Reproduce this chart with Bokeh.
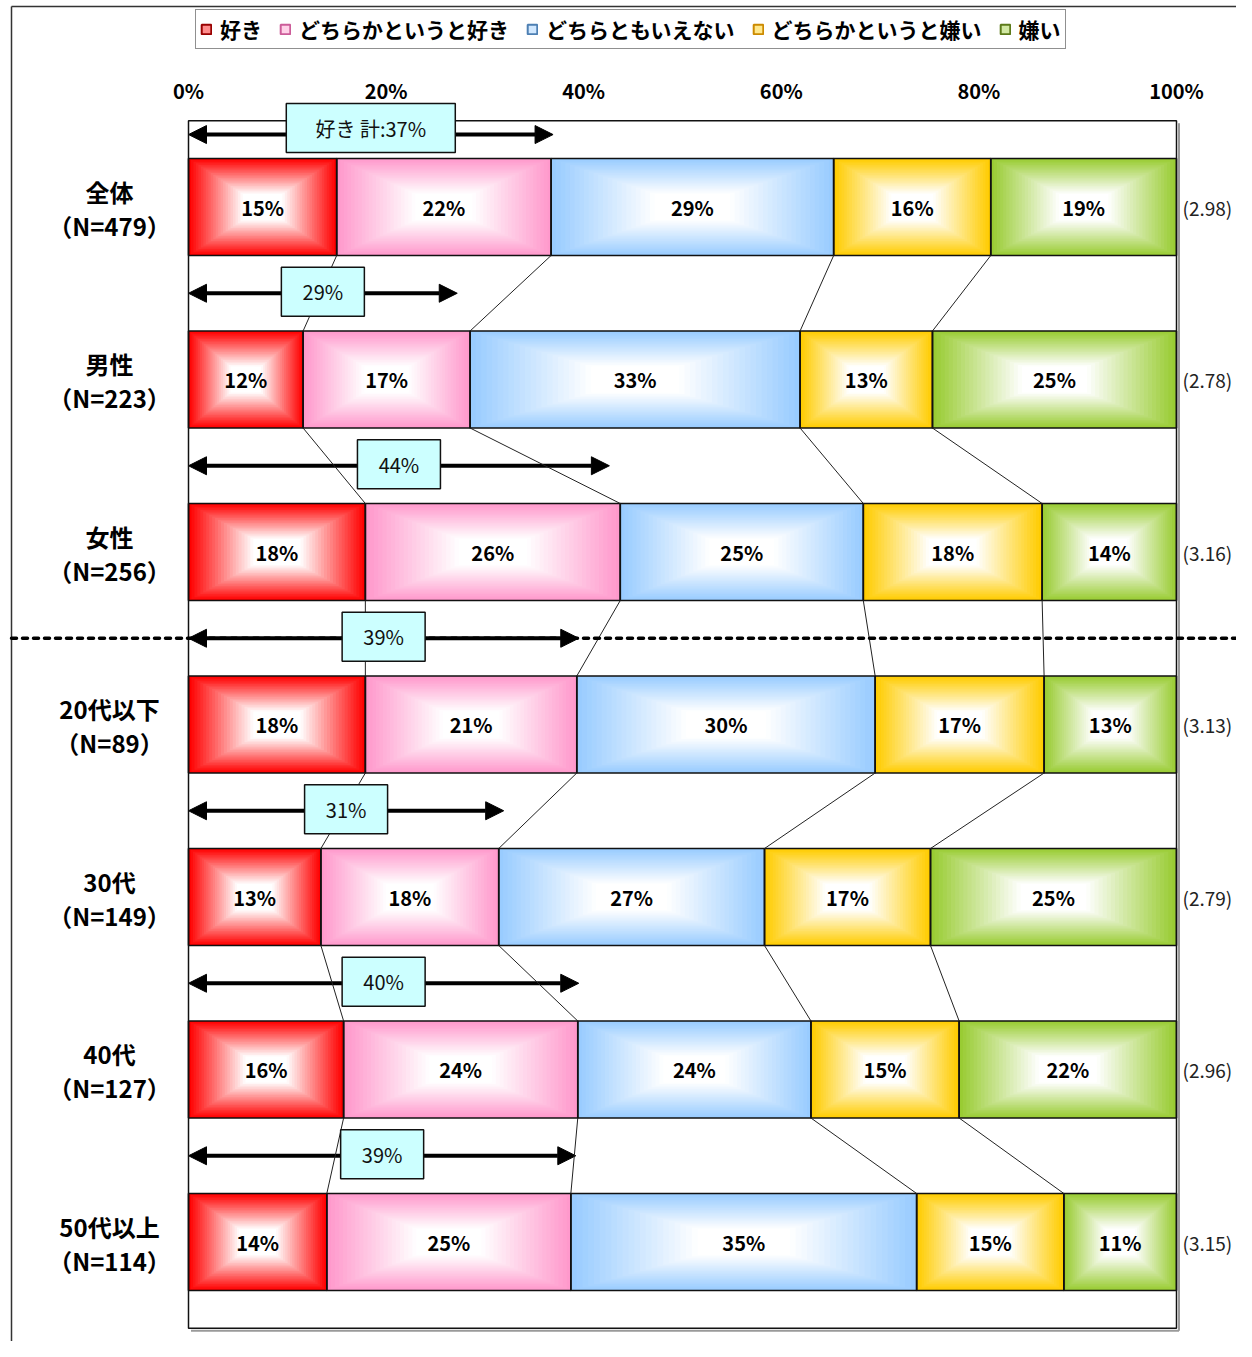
from bokeh.plotting import figure
from bokeh.models import Range1d, ColumnDataSource, Arrow, NormalHead, Legend, LegendItem
from bokeh.embed import file_html
from bokeh.resources import INLINE
from bokeh.core.properties import value
import numpy as np

# ---------------- data ----------------
categories = ["全体", "男性", "女性", "20代以下", "30代", "40代", "50代以上"]
sample_n = ["（N=479）", "（N=223）", "（N=256）", "（N=89）", "（N=149）", "（N=127）", "（N=114）"]
series_names = ["好き", "どちらかというと好き", "どちらともいえない", "どちらかというと嫌い", "嫌い"]
like = [15.0, 11.6, 17.9, 17.9, 13.4, 15.7, 14.0]
rather_like = [21.7, 16.9, 25.8, 21.4, 18.0, 23.7, 24.7]
neutral = [28.6, 33.4, 24.6, 30.2, 26.9, 23.6, 35.0]
rather_dislike = [15.9, 13.4, 18.1, 17.1, 16.8, 15.0, 14.9]
dislike = [18.8, 24.7, 13.6, 13.4, 24.9, 22.0, 11.4]
like_total = [37, 29, 44, 39, 31, 40, 39]
arrow_end = [36.9, 27.2, 42.6, 39.5, 31.9, 39.5, 39.2]
average = [2.98, 2.78, 3.16, 3.13, 2.79, 2.96, 3.15]
x_ticks = [0, 20, 40, 60, 80, 100]
x_tick_labels = ["0%", "20%", "40%", "60%", "80%", "100%"]

series_vals = [like, rather_like, neutral, rather_dislike, dislike]
base_rgb = [(255, 0, 0), (255, 153, 204), (153, 204, 255), (255, 204, 0), (153, 204, 51)]
legend_line = ["#990000", "#cc5c99", "#4d7fb3", "#cc8a00", "#5c7a1a"]

# ---------------- layout helpers ----------------
W, H = 1236, 1341
PX0, PXS = 188.0, 9.88      # canvas x of 0 %, px per %
PY0, PYS = 206.5, 172.5     # canvas y of first row centre, px per row

def X(px):
    return (px - PX0) / PXS

def Y(py):
    return (py - PY0) / PYS

BAR_H = 97 / PYS
FONT = "Noto Sans CJK JP"
JP = value(FONT)

p = figure(width=W, height=H, x_range=Range1d(X(0), X(W)), y_range=Range1d(Y(H), Y(0)),
           toolbar_location=None, output_backend="svg", min_border=0,
           x_axis_location=None, y_axis_location=None)
p.grid.grid_line_color = None
p.outline_line_color = None
p.background_fill_color = "white"
p.border_fill_color = "white"

def mix(rgb, f):
    r, g, b = [int(round(c + (255 - c) * f)) for c in rgb]
    return "#%02x%02x%02x" % (r, g, b)

rows = list(range(len(categories)))
cums = []
for r in rows:
    vals = [s[r] for s in series_vals]
    cums.append(np.concatenate([[0.0], np.cumsum(vals)]))

# outer chart border (left and top edges; right edge lies beyond the canvas)
p.segment(x0=[X(11), X(11)], y0=[Y(6), Y(6)], x1=[X(11), X(W + 5)], y1=[Y(H + 5), Y(6)],
          line_color="#333333", line_width=1.5)

# arrows (underneath everything)
arrow_y = [r - 0.5 if r > 0 else -0.42 for r in rows]
asrc = ColumnDataSource(dict(x0=[0.0] * len(rows), y0=arrow_y, x1=arrow_end, y1=arrow_y))
arrows = Arrow(start=NormalHead(size=18, fill_color="black", line_color="black", line_width=1),
               end=NormalHead(size=18, fill_color="black", line_color="black", line_width=1),
               x_start="x0", y_start="y0", x_end="x1", y_end="y1", source=asrc,
               line_width=4, line_color="black", level="underlay")
p.add_layout(arrows)

# gradient bars
N = 30
gx, gy, gw, gh, gc = [], [], [], [], []
for r in rows:
    cum = cums[r]
    for k in range(5):
        w = cum[k + 1] - cum[k]
        cx = (cum[k] + cum[k + 1]) / 2
        for j in range(N):
            t = j / N
            s = 1 - t
            f = min(1.0, t / 0.72)
            gx.append(cx); gy.append(r); gw.append(w * s); gh.append(BAR_H * s)
            gc.append(mix(base_rgb[k], f))
p.rect(x="x", y="y", width="w", height="h", fill_color="c", line_color=None,
       source=ColumnDataSource(dict(x=gx, y=gy, w=gw, h=gh, c=gc)))

# segment outlines + labels
ox, oy, ow, olab = [], [], [], []
for r in rows:
    cum = cums[r]
    for k in range(5):
        ox.append((cum[k] + cum[k + 1]) / 2)
        oy.append(r)
        ow.append(cum[k + 1] - cum[k])
        olab.append("%d%%" % int(round(series_vals[k][r])))
osrc = ColumnDataSource(dict(x=ox, y=oy, w=ow, t=olab))
p.rect(x="x", y="y", width="w", height=BAR_H, fill_color=None, line_color="#111111",
       line_width=1.6, source=osrc)
p.text(x="x", y="y", text="t", source=osrc, text_align="center", text_baseline="middle",
       text_font=JP, text_font_style="bold", text_font_size="20px", text_color="black")

# connector lines
cx0, cy0, cx1, cy1 = [], [], [], []
for r in rows[:-1]:
    for k in range(1, 5):
        cx0.append(cums[r][k]); cy0.append(r + BAR_H / 2)
        cx1.append(cums[r + 1][k]); cy1.append(r + 1 - BAR_H / 2)
p.segment(x0=cx0, y0=cy0, x1=cx1, y1=cy1, line_color="#222222", line_width=1)

# plot frame with light shadow
dx, dy = X(190.5) - X(188), 2.5 / PYS
p.segment(x0=[dx, 100 + dx], y0=[6.5 + dy, -0.5 + dy], x1=[100 + dx, 100 + dx], y1=[6.5 + dy, 6.5 + dy],
          line_color="#9a9a9a", line_width=2)
p.quad(left=0, right=100, top=-0.5, bottom=6.5, fill_color=None, line_color="#111111", line_width=1.5)

# dashed divider between gender and age groups
p.segment(x0=[X(11)], y0=[2.5], x1=[X(W + 5)], y1=[2.5], line_color="black", line_width=3.5,
          line_dash="5 6", line_cap="round")

# total boxes
box_y = [(arrow_y[0] - 6.5 / PYS) if r == 0 else (arrow_y[r] - 1.5 / PYS) for r in rows]
box_x = [e / 2 for e in arrow_end]
box_txt = ["好き 計:%d%%" % like_total[0]] + ["%d%%" % v for v in like_total[1:]]
box_w = [169] + [83] * (len(rows) - 1)
bsrc = ColumnDataSource(dict(x=box_x, y=box_y, t=box_txt, w=box_w))
p.rect(x="x", y="y", width="w", height=49, width_units="screen", height_units="screen",
       fill_color="#ccffff", line_color="#111111", line_width=1.5, source=bsrc)
p.text(x="x", y="y", text="t", source=bsrc, text_align="center", text_baseline="middle",
       text_font=JP, text_font_size="20px", text_color="#111111")

# top percentage labels
p.text(x=x_ticks, y=[Y(90)] * len(x_ticks), text=x_tick_labels, text_align="center",
       text_baseline="middle", text_font=JP, text_font_style="bold", text_font_size="20px",
       text_color="black")

# category labels
p.text(x=[X(109)] * len(rows), y=[r - 16 / PYS for r in rows], text=categories,
       text_align="center", text_baseline="middle", text_font=JP, text_font_style="bold",
       text_font_size="24px", text_color="black")
p.text(x=[X(109)] * len(rows), y=[r + 18 / PYS for r in rows], text=sample_n,
       text_align="center", text_baseline="middle", text_font=JP, text_font_style="bold",
       text_font_size="24px", text_color="black")

# averages on the right
p.text(x=[X(1182)] * len(rows), y=rows, text=["(%.2f)" % a for a in average],
       text_align="left", text_baseline="middle", text_font=JP, text_font_size="19px",
       text_color="#222222")

# legend
items = []
for k, name in enumerate(series_names):
    rr = p.rect(x=[-1000], y=[-1000], width=1, height=1, fill_color=mix(base_rgb[k], 0.55),
                line_color=legend_line[k], line_width=2)
    items.append(LegendItem(label=name, renderers=[rr]))
legend = Legend(items=items, orientation="horizontal", location=(195, H - 49),
                glyph_width=12, glyph_height=12, label_standoff=8, spacing=17, padding=4,
                margin=0, label_text_font=FONT, label_text_font_style="bold",
                label_text_font_size="21px", label_text_color="black",
                border_line_color="#222222", border_line_width=1,
                background_fill_color="white", background_fill_alpha=1.0)
p.add_layout(legend)

open("out.html", "w").write(file_html(p, INLINE))
